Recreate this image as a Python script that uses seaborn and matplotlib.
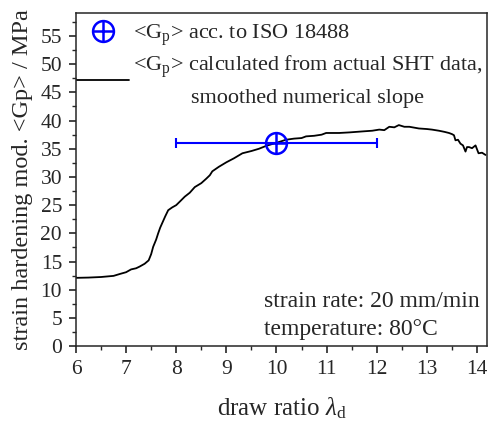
import numpy as np
import pandas as pd
import matplotlib
matplotlib.use("Agg")
import matplotlib.pyplot as plt
from matplotlib.lines import Line2D
from matplotlib.ticker import MultipleLocator
import seaborn as sns

# smoothed strain hardening modulus
draw_ratio = [6.0, 6.25, 6.5, 6.75, 6.88, 7.0, 7.1, 7.2, 7.27, 7.37, 7.45, 7.5, 7.54,
              7.6, 7.64, 7.68, 7.72, 7.78, 7.84, 7.92, 8.0, 8.08, 8.17, 8.27, 8.37,
              8.5, 8.6, 8.67, 8.72, 8.85, 9.0, 9.15, 9.32, 9.5, 9.65, 9.79, 9.9,
              10.05, 10.19, 10.35, 10.5, 10.59, 10.75, 10.9, 10.99, 11.1, 11.25,
              11.45, 11.6, 11.75, 11.91, 12.05, 12.15, 12.25, 12.35, 12.44, 12.55,
              12.65, 12.84, 13.0, 13.1, 13.24, 13.35, 13.44, 13.5, 13.54, 13.57,
              13.62, 13.67, 13.72, 13.77, 13.8, 13.84, 13.9, 13.97, 14.03, 14.1, 14.17]
gp_curve = [12.1, 12.15, 12.25, 12.45, 12.8, 13.1, 13.6, 13.8, 14.1, 14.6, 15.2, 16.3, 17.6,
            18.9, 20.0, 21.0, 21.8, 23.0, 24.1, 24.6, 25.0, 25.7, 26.5, 27.2, 28.2,
            28.9, 29.7, 30.3, 31.0, 31.8, 32.6, 33.3, 34.2, 34.6, 35.0, 35.5, 35.8,
            36.2, 36.6, 36.8, 36.9, 37.2, 37.3, 37.5, 37.8, 37.8, 37.8,
            37.9, 38.0, 38.1, 38.2, 38.4, 38.3, 38.9, 38.8, 39.2, 38.9,
            38.9, 38.6, 38.5, 38.4, 38.2, 38.0, 37.8, 37.6, 37.4, 36.5,
            36.6, 35.9, 35.6, 34.5, 35.3, 35.3, 35.1, 35.6, 34.2, 34.3, 33.9]

# ISO 18488 value with range
iso_x = [10.0]
iso_gp = [36.0]
iso_xerr = [2.0]

sns.set_style("ticks")
plt.rcParams['font.family'] = ['Liberation Serif', 'DejaVu Serif']
plt.rcParams['mathtext.fontset'] = 'custom'
plt.rcParams['mathtext.rm'] = 'Liberation Serif'
plt.rcParams['mathtext.it'] = 'Liberation Serif:italic'

df = pd.DataFrame({"draw ratio": draw_ratio, "Gp": gp_curve})

fig = plt.figure(figsize=(4.9, 4.21), dpi=100)
ax = fig.add_axes([0.155, 0.178, 0.839, 0.79])

sns.lineplot(data=df, x="draw ratio", y="Gp", color="black", linewidth=1.3, ax=ax)
ax.errorbar(iso_x, iso_gp, xerr=iso_xerr, fmt='none', ecolor='blue', elinewidth=1.5,
            capsize=3.5, capthick=1.5, zorder=4)
ax.plot(iso_x, iso_gp, 'o', ms=15, mfc='none', mec='blue', mew=1.8, zorder=5)
ax.plot(iso_x, iso_gp, '+', ms=15, mec='blue', mew=1.8, zorder=5)

ax.set_xlim(6, 14.2)
ax.set_ylim(0, 59)
ax.xaxis.set_major_locator(MultipleLocator(1))
ax.xaxis.set_minor_locator(MultipleLocator(0.5))
ax.yaxis.set_major_locator(MultipleLocator(5))
ax.yaxis.set_minor_locator(MultipleLocator(2.5))
ax.tick_params(which='major', direction='out', length=5, width=1.2, labelsize=15.5, pad=5)
ax.tick_params(which='minor', direction='out', length=3, width=1.0)
for s in ax.spines.values():
    s.set_linewidth(1.1)

ax.set_xlabel(r"draw ratio $\lambda_\mathrm{d}$", fontsize=18, labelpad=12)
ax.set_ylabel("strain hardening mod. <Gp> / MPa", fontsize=17.5, labelpad=5)

h1 = (Line2D([], [], ls='none', marker='o', ms=15, mfc='none', mec='blue', mew=1.8),
      Line2D([], [], ls='none', marker='+', ms=15, mec='blue', mew=1.8))
h2 = Line2D([], [], color='black', lw=1.3)
leg = ax.legend([h1, h2],
                [r"<G$_\mathrm{p}$> acc. to ISO 18488",
                 "<G$_\\mathrm{p}$> calculated from actual SHT data,\nsmoothed numerical slope"],
                loc='upper left', bbox_to_anchor=(-0.003, 0.981), frameon=False,
                fontsize=16, handlelength=2.35, handletextpad=0.17, borderaxespad=0,
                labelspacing=0.25, borderpad=0.1)
for t in leg.get_texts():
    t.set_multialignment('center')
    t.set_linespacing(1.65)

ax.text(0.457, 0.165, "strain rate: 20 mm/min\ntemperature: 80°C", transform=ax.transAxes,
        fontsize=17, ha='left', va='top', linespacing=1.45)

fig.savefig("out.png", dpi=100)
